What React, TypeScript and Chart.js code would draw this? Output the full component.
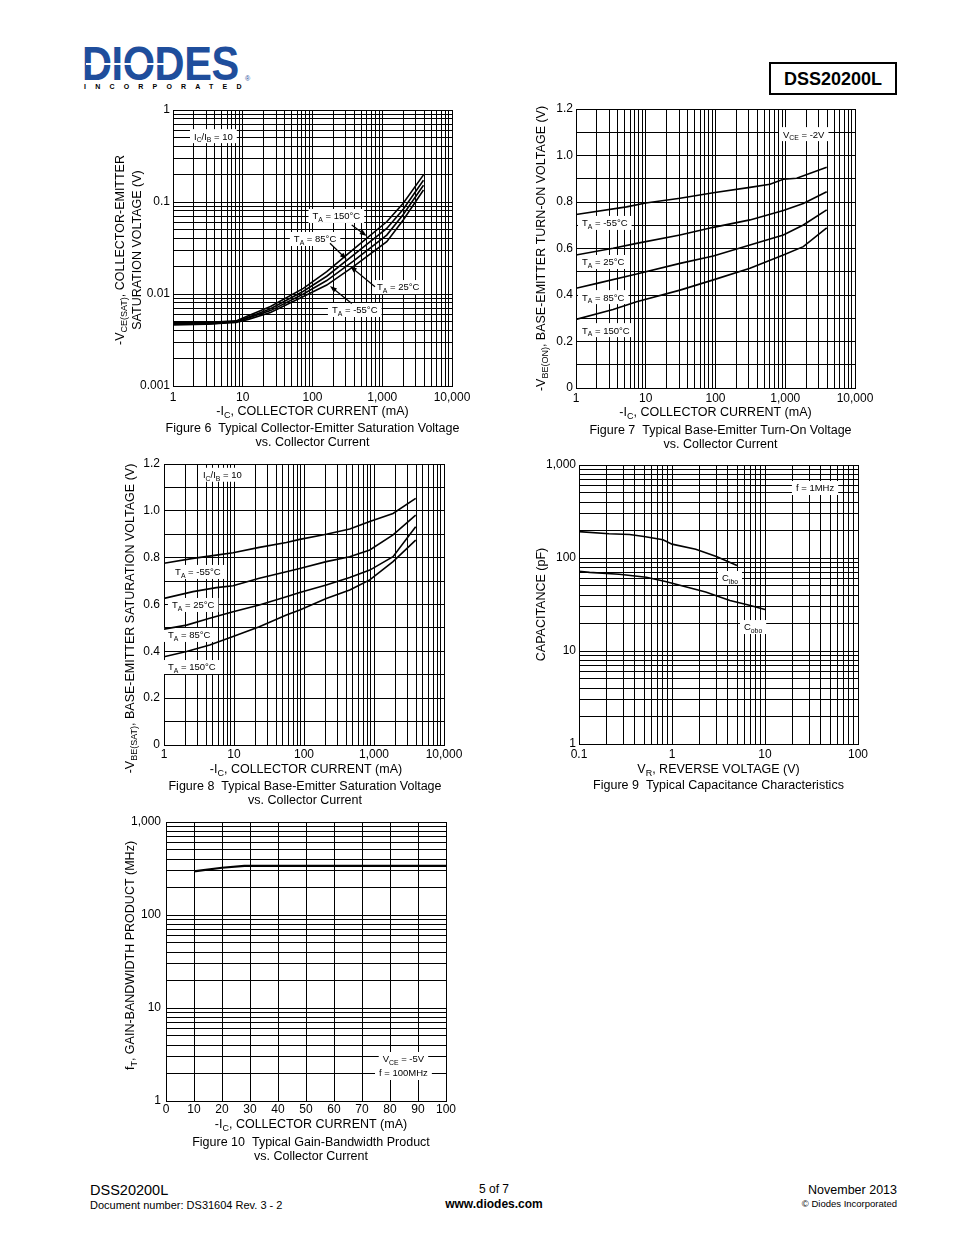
import React, { useEffect, useRef } from 'react';
import { Chart, registerables } from 'chart.js';

Chart.register(...registerables);

const FONT = '"Liberation Sans", Arial, Helvetica, sans-serif';

// ---------- Figure 6: -VCE(SAT) vs -IC (IC/IB = 10) ----------
const fig6Current = [1, 3, 8, 12, 25, 74, 160, 385, 1160, 2000, 3900];
const fig6Vce150 = [0.0049, 0.0049, 0.0051, 0.0058, 0.0073, 0.0115, 0.0175, 0.0306, 0.061, 0.0968, 0.197];
const fig6Vce85 = [0.0048, 0.0048, 0.005, 0.0056, 0.0069, 0.0107, 0.0156, 0.0264, 0.0516, 0.0835, 0.172];
const fig6Vce25 = [0.0047, 0.0047, 0.005, 0.0055, 0.0066, 0.01, 0.014, 0.0228, 0.0437, 0.073, 0.152];
const fig6VceM55 = [0.0046, 0.0047, 0.0049, 0.0053, 0.0063, 0.0094, 0.0125, 0.0198, 0.037, 0.0637, 0.135];

// ---------- Figure 7: -VBE(ON) vs -IC (VCE = -2V) ----------
const fig7CurM55 = [1, 5.3, 10, 31, 93, 312, 604, 938, 1458, 3930];
const fig7VbeM55 = [0.746, 0.779, 0.796, 0.816, 0.84, 0.863, 0.876, 0.898, 0.902, 0.949];
const fig7Cur25 = [1, 3.4, 7.4, 31, 93, 312, 938, 1815, 3930];
const fig7Vbe25 = [0.572, 0.601, 0.622, 0.658, 0.691, 0.723, 0.763, 0.794, 0.844];
const fig7Cur85 = [1, 2, 7.4, 31, 93, 312, 938, 1815, 3930];
const fig7Vbe85 = [0.429, 0.45, 0.49, 0.536, 0.568, 0.615, 0.658, 0.701, 0.766];
const fig7Cur150 = [1, 3.4, 7.4, 31, 93, 312, 938, 1815, 3930];
const fig7Vbe150 = [0.295, 0.338, 0.371, 0.421, 0.465, 0.515, 0.572, 0.608, 0.689];

// ---------- Figure 8: -VBE(SAT) vs -IC (IC/IB = 10) ----------
const fig8CurA = [1, 2.6, 5.6, 9.7, 23, 56, 87, 208, 450, 870, 1870, 3940];
const fig8VbeM55 = [0.776, 0.797, 0.811, 0.821, 0.844, 0.865, 0.878, 0.9, 0.922, 0.954, 0.989, 1.053];
const fig8Vbe25 = [0.626, 0.655, 0.672, 0.68, 0.712, 0.74, 0.754, 0.783, 0.804, 0.833, 0.897, 0.982];
const fig8CurB = [1, 2.1, 4.5, 9.7, 23, 56, 87, 208, 450, 870, 1870, 3940];
const fig8Vbe85 = [0.495, 0.512, 0.541, 0.569, 0.598, 0.633, 0.651, 0.683, 0.715, 0.747, 0.804, 0.932];
const fig8Vbe150 = [0.377, 0.399, 0.427, 0.463, 0.505, 0.555, 0.577, 0.626, 0.662, 0.705, 0.783, 0.875];

// ---------- Figure 9: Capacitance vs VR (f = 1MHz) ----------
const fig9VrIbo = [0.1, 0.21, 0.35, 0.5, 0.8, 1.0, 1.8, 3.0, 5.0];
const fig9Cibo = [192, 182, 179, 170, 157, 141, 124, 104, 83];
const fig9VrObo = [0.1, 0.13, 0.27, 0.53, 0.85, 1.4, 2.3, 4.2, 6.8, 10];
const fig9Cobo = [72, 70, 67, 62, 56, 49, 43, 35, 31, 28];

// ---------- Figure 10: fT vs -IC (VCE = -5V) ----------
const fig10Current = [10, 12, 20, 28, 100];
const fig10Ft = [295, 300, 322, 338, 338];

// ---------- helpers ----------
type Seg = { t: string; sub: boolean };
function parseRich(s: string): Seg[] {
  const out: Seg[] = [];
  const re = /_\{([^}]*)\}/g;
  let last = 0;
  let m: RegExpExecArray | null;
  while ((m = re.exec(s))) {
    if (m.index > last) out.push({ t: s.slice(last, m.index), sub: false });
    out.push({ t: m[1], sub: true });
    last = re.lastIndex;
  }
  if (last < s.length) out.push({ t: s.slice(last), sub: false });
  return out;
}
function richWidth(ctx: CanvasRenderingContext2D, s: string, size: number) {
  let w = 0;
  for (const seg of parseRich(s)) {
    ctx.font = `${seg.sub ? size * 0.72 : size}px ${FONT}`;
    w += ctx.measureText(seg.t).width;
  }
  return w;
}
function drawRich(ctx: CanvasRenderingContext2D, s: string, x: number, cy: number, size: number, align: string) {
  const w = richWidth(ctx, s, size);
  let cx = align === 'center' ? x - w / 2 : align === 'right' ? x - w : x;
  const base = cy + size * 0.36;
  ctx.textAlign = 'left';
  ctx.textBaseline = 'alphabetic';
  for (const seg of parseRich(s)) {
    const fs = seg.sub ? size * 0.72 : size;
    ctx.font = `${fs}px ${FONT}`;
    ctx.fillText(seg.t, cx, seg.sub ? base + size * 0.25 : base);
    cx += ctx.measureText(seg.t).width;
  }
}

function logTicks(min: number, max: number) {
  const out: number[] = [];
  for (let e = Math.floor(Math.log10(min)); e <= Math.ceil(Math.log10(max)); e++) {
    for (let s = 1; s <= 9; s++) {
      const v = parseFloat((s * Math.pow(10, e)).toPrecision(6));
      if (v >= min * 0.999999 && v <= max * 1.000001) out.push(v);
    }
  }
  return out;
}
function isDecade(v: number) {
  const l = Math.log10(v);
  return Math.abs(l - Math.round(l)) < 1e-6;
}
function fmtNum(v: number) {
  return v >= 1 ? Math.round(v).toLocaleString('en-US') : String(parseFloat(v.toPrecision(6)));
}

const tickFont = { family: FONT, size: 12 };
const gridOpts = { color: '#000', lineWidth: 1, drawTicks: false };
const borderOpts = { color: '#000', width: 1 };

function logScale(min: number, max: number, pad: number) {
  return {
    type: 'logarithmic',
    min,
    max,
    afterBuildTicks: (s: any) => {
      s.ticks = logTicks(min, max).map((v) => ({ value: v }));
    },
    ticks: {
      autoSkip: false,
      maxRotation: 0,
      minRotation: 0,
      padding: pad,
      color: '#000',
      font: tickFont,
      callback: (v: any) => (isDecade(Number(v)) ? fmtNum(Number(v)) : ''),
    },
    grid: gridOpts,
    border: borderOpts,
  };
}
function linearVoltScale(pad: number) {
  return {
    type: 'linear',
    min: 0,
    max: 1.2,
    ticks: {
      stepSize: 0.1,
      autoSkip: false,
      padding: pad,
      color: '#000',
      font: tickFont,
      callback: (v: any) => {
        const k = Math.round(Number(v) * 10);
        if (k % 2 !== 0) return '';
        return k === 0 ? '0' : (k / 10).toFixed(1);
      },
    },
    grid: gridOpts,
    border: borderOpts,
  };
}
function linearCurrentScale(pad: number) {
  return {
    type: 'linear',
    min: 0,
    max: 100,
    ticks: {
      stepSize: 10,
      autoSkip: false,
      maxRotation: 0,
      minRotation: 0,
      padding: pad,
      color: '#000',
      font: tickFont,
      callback: (v: any) => String(Math.round(Number(v))),
    },
    grid: gridOpts,
    border: borderOpts,
  };
}

type Note = { x: number; y: number; text: string; align?: string };
type Arrow = { x1: number; y1: number; x2: number; y2: number };
type Series = { x: number[]; y: number[]; width?: number };
type FigCfg = {
  box: { left: number; top: number; width: number; height: number };
  padTop: number;
  padRight: number;
  yAxisW: number;
  xAxisH: number;
  xScale: any;
  yScale: any;
  series: Series[];
  xTitle: string;
  xTitleDx?: number;
  xTitleDy: number;
  yTitle: string[];
  yTitleOffsets: number[];
  yTitleDy?: number;
  caption: string[];
  captionDx?: number;
  captionDy: number[];
  notes: Note[];
  arrows?: Arrow[];
};

function zeroPad(s: any) {
  s.paddingLeft = 0;
  s.paddingRight = 0;
  s.paddingTop = 0;
  s.paddingBottom = 0;
}

function makePlugin(cfg: FigCfg) {
  return {
    id: 'figText',
    beforeDatasetsDraw(chart: any) {
      const { ctx, scales } = chart;
      const xs = scales.x;
      const ys = scales.y;
      ctx.save();
      const size = 9.5;
      for (const n of cfg.notes) {
        const px = xs.getPixelForValue(n.x);
        const py = ys.getPixelForValue(n.y);
        const w = richWidth(ctx, n.text, size);
        const left = n.align === 'center' ? px - w / 2 : px;
        ctx.fillStyle = '#fff';
        ctx.fillRect(left - 4, py - 7, w + 8, 14);
        ctx.fillStyle = '#000';
        drawRich(ctx, n.text, left, py, size, 'left');
      }
      for (const a of cfg.arrows || []) {
        const x1 = xs.getPixelForValue(a.x1);
        const y1 = ys.getPixelForValue(a.y1);
        const x2 = xs.getPixelForValue(a.x2);
        const y2 = ys.getPixelForValue(a.y2);
        const ang = Math.atan2(y2 - y1, x2 - x1);
        const hl = 7;
        const hw = 2.6;
        ctx.strokeStyle = '#000';
        ctx.lineWidth = 1.2;
        ctx.beginPath();
        ctx.moveTo(x1, y1);
        ctx.lineTo(x2 - Math.cos(ang) * hl * 0.8, y2 - Math.sin(ang) * hl * 0.8);
        ctx.stroke();
        ctx.fillStyle = '#000';
        ctx.beginPath();
        ctx.moveTo(x2, y2);
        ctx.lineTo(x2 - Math.cos(ang) * hl - Math.sin(ang) * hw, y2 - Math.sin(ang) * hl + Math.cos(ang) * hw);
        ctx.lineTo(x2 - Math.cos(ang) * hl + Math.sin(ang) * hw, y2 - Math.sin(ang) * hl - Math.cos(ang) * hw);
        ctx.closePath();
        ctx.fill();
      }
      ctx.restore();
    },
    afterDraw(chart: any) {
      const { ctx, chartArea: ca } = chart;
      const cx = (ca.left + ca.right) / 2;
      const cy = (ca.top + ca.bottom) / 2;
      ctx.save();
      ctx.fillStyle = '#000';
      drawRich(ctx, cfg.xTitle, cx + (cfg.xTitleDx || 0), ca.bottom + cfg.xTitleDy, 12.5, 'center');
      cfg.caption.forEach((line, i) => {
        drawRich(ctx, line, cx + (cfg.captionDx || 0), ca.bottom + cfg.captionDy[i], 12.5, 'center');
      });
      cfg.yTitle.forEach((line, i) => {
        ctx.save();
        ctx.translate(ca.left + cfg.yTitleOffsets[i], cy + (cfg.yTitleDy || 0));
        ctx.rotate(-Math.PI / 2);
        drawRich(ctx, line, 0, 0, 12.5, 'center');
        ctx.restore();
      });
      ctx.restore();
    },
  };
}

function buildConfig(cfg: FigCfg): any {
  return {
    type: 'line',
    data: {
      datasets: cfg.series.map((s) => ({
        data: s.x.map((x, i) => ({ x, y: s.y[i] })),
        borderColor: '#000',
        borderWidth: s.width ?? 1.6,
        pointRadius: 0,
        fill: false,
        tension: 0,
      })),
    },
    options: {
      responsive: false,
      animation: false,
      devicePixelRatio: 1,
      events: [],
      layout: { padding: { left: 0, top: cfg.padTop, right: cfg.padRight, bottom: 0 } },
      plugins: { legend: { display: false }, tooltip: { enabled: false }, title: { display: false } },
      scales: {
        x: {
          ...cfg.xScale,
          position: 'bottom',
          afterFit: (s: any) => {
            s.height = cfg.xAxisH;
            zeroPad(s);
          },
        },
        y: {
          ...cfg.yScale,
          position: 'left',
          afterFit: (s: any) => {
            s.width = cfg.yAxisW;
            zeroPad(s);
          },
        },
      },
    },
    plugins: [makePlugin(cfg)],
  };
}

const fig6: FigCfg = {
  box: { left: 100, top: 96, width: 375, height: 354 },
  padTop: 14,
  padRight: 23,
  yAxisW: 73,
  xAxisH: 64,
  xScale: logScale(1, 10000, 4),
  yScale: logScale(0.001, 1, 3),
  series: [
    { x: fig6Current, y: fig6Vce150 },
    { x: fig6Current, y: fig6Vce85 },
    { x: fig6Current, y: fig6Vce25 },
    { x: fig6Current, y: fig6VceM55 },
  ],
  xTitle: '-I_{C}, COLLECTOR CURRENT (mA)',
  xTitleDy: 24,
  yTitle: ['-V_{CE(SAT)}, COLLECTOR-EMITTER', 'SATURATION VOLTAGE (V)'],
  yTitleOffsets: [-54, -37],
  yTitleDy: 2,
  caption: ['Figure 6  Typical Collector-Emitter Saturation Voltage', 'vs. Collector Current'],
  captionDy: [41, 55],
  notes: [
    { x: 2, y: 0.52, text: 'I_{C}/I_{B} = 10' },
    { x: 100, y: 0.0705, text: 'T_{A} = 150°C' },
    { x: 54, y: 0.0396, text: 'T_{A} = 85°C' },
    { x: 841, y: 0.0119, text: 'T_{A} = 25°C' },
    { x: 190, y: 0.0067, text: 'T_{A} = -55°C' },
  ],
  arrows: [
    { x1: 365, y1: 0.0562, x2: 598, y2: 0.0427 },
    { x1: 178, y1: 0.0356, x2: 309, y2: 0.0238 },
    { x1: 787, y1: 0.012, x2: 345, y2: 0.0201 },
    { x1: 365, y1: 0.0079, x2: 178, y2: 0.0122 },
  ],
};

const fig7: FigCfg = {
  box: { left: 525, top: 96, width: 360, height: 354 },
  padTop: 13,
  padRight: 30,
  yAxisW: 51,
  xAxisH: 62,
  xScale: logScale(1, 10000, 3),
  yScale: linearVoltScale(3),
  series: [
    { x: fig7CurM55, y: fig7VbeM55 },
    { x: fig7Cur25, y: fig7Vbe25 },
    { x: fig7Cur85, y: fig7Vbe85 },
    { x: fig7Cur150, y: fig7Vbe150 },
  ],
  xTitle: '-I_{C}, COLLECTOR CURRENT (mA)',
  xTitleDy: 23,
  yTitle: ['-V_{BE(ON)}, BASE-EMITTER TURN-ON VOLTAGE (V)'],
  yTitleOffsets: [-36],
  caption: ['Figure 7  Typical Base-Emitter Turn-On Voltage', 'vs. Collector Current'],
  captionDx: 5,
  captionDy: [41, 55],
  notes: [
    { x: 929, y: 1.092, text: 'V_{CE} = -2V' },
    { x: 1.22, y: 0.71, text: 'T_{A} = -55°C' },
    { x: 1.22, y: 0.542, text: 'T_{A} = 25°C' },
    { x: 1.22, y: 0.391, text: 'T_{A} = 85°C' },
    { x: 1.22, y: 0.249, text: 'T_{A} = 150°C' },
  ],
};

const fig8: FigCfg = {
  box: { left: 110, top: 452, width: 365, height: 354 },
  padTop: 12,
  padRight: 31,
  yAxisW: 54,
  xAxisH: 61,
  xScale: logScale(1, 10000, 2),
  yScale: linearVoltScale(4),
  series: [
    { x: fig8CurA, y: fig8VbeM55 },
    { x: fig8CurA, y: fig8Vbe25 },
    { x: fig8CurB, y: fig8Vbe85 },
    { x: fig8CurB, y: fig8Vbe150 },
  ],
  xTitle: '-I_{C}, COLLECTOR CURRENT (mA)',
  xTitleDx: 2,
  xTitleDy: 23,
  yTitle: ['-V_{BE(SAT)}, BASE-EMITTER SATURATION VOLTAGE (V)'],
  yTitleOffsets: [-35],
  yTitleDy: 14,
  caption: ['Figure 8  Typical Base-Emitter Saturation Voltage', 'vs. Collector Current'],
  captionDx: 1,
  captionDy: [40, 54],
  notes: [
    { x: 3.6, y: 1.154, text: 'I_{C}/I_{B} = 10' },
    { x: 1.44, y: 0.739, text: 'T_{A} = -55°C' },
    { x: 1.3, y: 0.598, text: 'T_{A} = 25°C' },
    { x: 1.14, y: 0.47, text: 'T_{A} = 85°C' },
    { x: 1.14, y: 0.333, text: 'T_{A} = 150°C' },
  ],
};

const fig9: FigCfg = {
  box: { left: 525, top: 452, width: 355, height: 343 },
  padTop: 13,
  padRight: 22,
  yAxisW: 54,
  xAxisH: 51,
  xScale: logScale(0.1, 100, 3),
  yScale: logScale(1, 1000, 3),
  series: [
    { x: fig9VrIbo, y: fig9Cibo },
    { x: fig9VrObo, y: fig9Cobo },
  ],
  xTitle: 'V_{R}, REVERSE VOLTAGE (V)',
  xTitleDy: 24,
  yTitle: ['CAPACITANCE (pF)'],
  yTitleOffsets: [-39],
  caption: ['Figure 9  Typical Capacitance Characteristics'],
  captionDy: [40],
  notes: [
    { x: 21.5, y: 566, text: 'f = 1MHz' },
    { x: 3.45, y: 61, text: 'C_{ibo}' },
    { x: 5.94, y: 18.1, text: 'C_{obo}' },
  ],
};

const fig10: FigCfg = {
  box: { left: 110, top: 810, width: 360, height: 355 },
  padTop: 12,
  padRight: 24,
  yAxisW: 56,
  xAxisH: 64,
  xScale: linearCurrentScale(1),
  yScale: logScale(1, 1000, 5),
  series: [{ x: fig10Current, y: fig10Ft, width: 2.2 }],
  xTitle: '-I_{C}, COLLECTOR CURRENT (mA)',
  xTitleDx: 5,
  xTitleDy: 22,
  yTitle: ['f_{T}, GAIN-BANDWIDTH PRODUCT (MHz)'],
  yTitleOffsets: [-37],
  yTitleDy: -6,
  caption: ['Figure 10  Typical Gain-Bandwidth Product', 'vs. Collector Current'],
  captionDx: 5,
  captionDy: [40, 54],
  notes: [
    { x: 84.8, y: 2.83, text: 'V_{CE} = -5V', align: 'center' },
    { x: 84.8, y: 2.0, text: 'f = 100MHz', align: 'center' },
  ],
};

function Fig({ cfg }: { cfg: FigCfg }) {
  const ref = useRef<HTMLCanvasElement>(null);
  useEffect(() => {
    const chart = new Chart(ref.current as HTMLCanvasElement, buildConfig(cfg));
    return () => chart.destroy();
  }, [cfg]);
  const b = cfg.box;
  return (
    <canvas
      ref={ref}
      width={b.width}
      height={b.height}
      style={{ position: 'absolute', left: b.left, top: b.top, width: b.width, height: b.height }}
    />
  );
}

const abs = (o: any): React.CSSProperties => ({ position: 'absolute', whiteSpace: 'nowrap', lineHeight: 1, ...o });

export default function App() {
  return (
    <div
      style={{
        position: 'absolute',
        left: 0,
        top: 0,
        width: 954,
        height: 1235,
        background: '#fff',
        fontFamily: FONT,
        color: '#000',
        overflow: 'hidden',
      }}
    >
      {/* Logo */}
      <div
        style={abs({
          left: 82,
          top: 40,
          fontSize: 47.5,
          fontWeight: 700,
          color: '#1f4e9c',
          transform: 'scaleX(0.875)',
          transformOrigin: 'left top',
          letterSpacing: -0.5,
        })}
      >
        DIODES
      </div>
      <div style={abs({ left: 86, top: 63, width: 86, height: 2, background: '#fff' })} />
      <div style={abs({ left: 84, top: 83, fontSize: 7, fontWeight: 700, letterSpacing: 9.2, color: '#000' })}>
        INCORPORATED
      </div>
      <div style={abs({ left: 245, top: 75, fontSize: 7, color: '#1f4e9c' })}>®</div>

      {/* Part number box */}
      <div
        style={abs({
          left: 769,
          top: 62,
          width: 128,
          height: 33,
          boxSizing: 'border-box',
          border: '2px solid #000',
          display: 'flex',
          alignItems: 'center',
          justifyContent: 'center',
          fontSize: 18,
          fontWeight: 700,
        })}
      >
        DSS20200L
      </div>

      <Fig cfg={fig6} />
      <Fig cfg={fig7} />
      <Fig cfg={fig8} />
      <Fig cfg={fig9} />
      <Fig cfg={fig10} />

      {/* Footer */}
      <div style={abs({ left: 90, top: 1183, fontSize: 14.5 })}>DSS20200L</div>
      <div style={abs({ left: 90, top: 1200, fontSize: 11 })}>Document number: DS31604 Rev. 3 - 2</div>
      <div style={abs({ left: 394, top: 1183, width: 200, textAlign: 'center', fontSize: 12 })}>5 of 7</div>
      <div style={abs({ left: 394, top: 1198, width: 200, textAlign: 'center', fontSize: 12, fontWeight: 700 })}>
        www.diodes.com
      </div>
      <div style={abs({ left: 697, top: 1184, width: 200, textAlign: 'right', fontSize: 12.5 })}>November 2013</div>
      <div style={abs({ left: 697, top: 1199, width: 200, textAlign: 'right', fontSize: 9.5 })}>© Diodes Incorporated</div>
    </div>
  );
}
